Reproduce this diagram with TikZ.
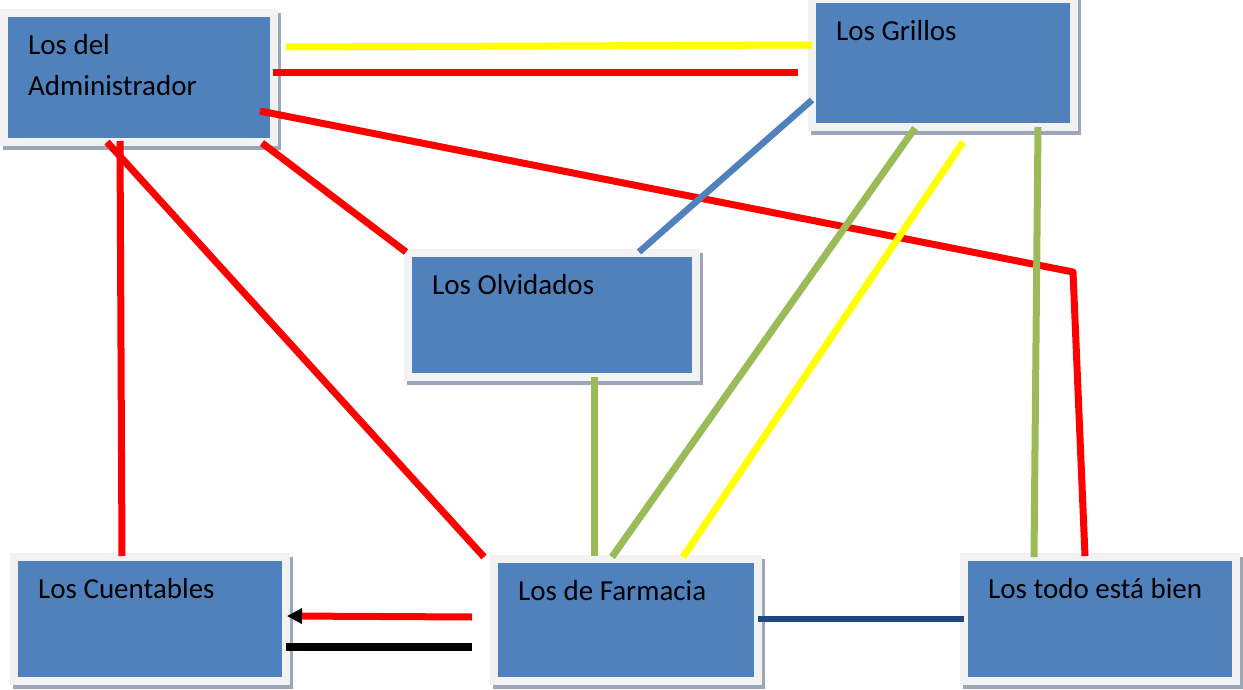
\documentclass[tikz,border=0pt]{standalone}
\usepackage{fontspec}
\setmainfont{Carlito}
\usetikzlibrary{arrows.meta}
\definecolor{boxblue}{HTML}{4F81BD}
\definecolor{boxframe}{HTML}{F2F2F2}
\definecolor{boxshadow}{HTML}{9CA6B8}
\definecolor{lgreen}{HTML}{9BBB59}
\definecolor{lyellow}{HTML}{FFFF00}
\definecolor{lred}{HTML}{FF0000}
\definecolor{dblue}{HTML}{1F497D}
\newcommand{\groupfont}{\fontsize{29}{41}\selectfont}
\begin{document}
\begin{tikzpicture}[x=1pt,y=-1pt,
  group/.style={rectangle, anchor=north west, draw=boxframe, fill=boxblue,
    line width=8pt, outer sep=0pt, inner sep=0pt,
    preaction={draw=boxshadow, line width=8pt,
      transform canvas={xshift=3pt,yshift=-4pt}}},
  grouptext/.style={anchor=base west, inner sep=0pt, font=\groupfont,
    text=black, xshift=24pt},
  link/.style={line width=7pt, line cap=butt, line join=round},
  redlink/.style={link, draw=lred},
  greenlink/.style={link, draw=lgreen},
  yellowlink/.style={link, draw=lyellow},
]
\useasboundingbox (0,0) rectangle (1243,690);

% the six groups
\node[group, minimum width=270pt, minimum height=129pt,
  label={[grouptext, yshift=-41.5pt]north west:Los del},
  label={[grouptext, yshift=-82.5pt]north west:Administrador}] (adm) at (4,13) {};
\node[group, minimum width=262pt, minimum height=128pt,
  label={[grouptext, yshift=-41.5pt]north west:Los Grillos}] (gri) at (812,-1) {};
\node[group, minimum width=288pt, minimum height=124pt,
  label={[grouptext, yshift=-41.5pt]north west:Los Olvidados}] (olv) at (408,253) {};
\node[group, minimum width=272pt, minimum height=124pt,
  label={[grouptext, yshift=-41.5pt]north west:Los Cuentables}] (cue) at (14,557) {};
\node[group, minimum width=264pt, minimum height=122pt,
  label={[grouptext, yshift=-41.5pt]north west:Los de Farmacia}] (far) at (494,559) {};
\node[group, minimum width=272pt, minimum height=124pt,
  label={[grouptext, yshift=-41.5pt]north west:Los todo está bien}] (tod) at (964,557) {};

% connector end points on the group frames
\coordinate (adm-y) at (286,47);   \coordinate (gri-y) at (812,45);
\coordinate (adm-r) at (273,73);   \coordinate (gri-r) at (798,73);
\coordinate (adm-t) at (260,111);  \coordinate (bend) at (1073,272);
\coordinate (tod-r) at (1085,556);
\coordinate (adm-o) at (262,143);  \coordinate (olv-a) at (406,252);
\coordinate (gri-o) at (812,100);  \coordinate (olv-g) at (639,252);
\coordinate (adm-c) at (120,141);  \coordinate (cue-a) at (122,556);
\coordinate (adm-f) at (107,142);  \coordinate (far-a) at (484,557);
\coordinate (olv-f) at (594,377);  \coordinate (far-o) at (594,556);
\coordinate (gri-f) at (915,128);  \coordinate (far-g) at (612,557);
\coordinate (gri-fy) at (963,142); \coordinate (far-gy) at (683,557);
\coordinate (gri-t) at (1038,127); \coordinate (tod-g) at (1034,557);
\coordinate (far-c) at (472,617);  \coordinate (cue-f) at (287,616);
\coordinate (cue-k) at (286,647);  \coordinate (far-k) at (472,647);
\coordinate (far-t) at (758,619);  \coordinate (tod-f) at (964,619);

% connectors
\draw[yellowlink] (adm-y) -- (gri-y);
\draw[redlink] (adm-r) -- (gri-r);
\draw[redlink] (adm-t) -- (bend) -- (tod-r);
\draw[redlink] (adm-o) -- (olv-a);
\draw[link, draw=boxblue, line width=6.5pt] (gri-o) -- (olv-g);
\draw[redlink] (adm-c) -- (cue-a);
\draw[redlink] (adm-f) -- (far-a);
\draw[greenlink] (olv-f) -- (far-o);
\draw[greenlink] (gri-f) -- (far-g);
\draw[yellowlink] (gri-fy) -- (far-gy);
\draw[greenlink] (gri-t) -- (tod-g);
\draw[redlink, -{Triangle[length=15pt, width=15pt, black]}] (far-c) -- (cue-f);
\draw[link, draw=black, line width=8pt] (cue-k) -- (far-k);
\draw[link, draw=dblue, line width=6.5pt] (far-t) -- (tod-f);
\end{tikzpicture}
\end{document}
